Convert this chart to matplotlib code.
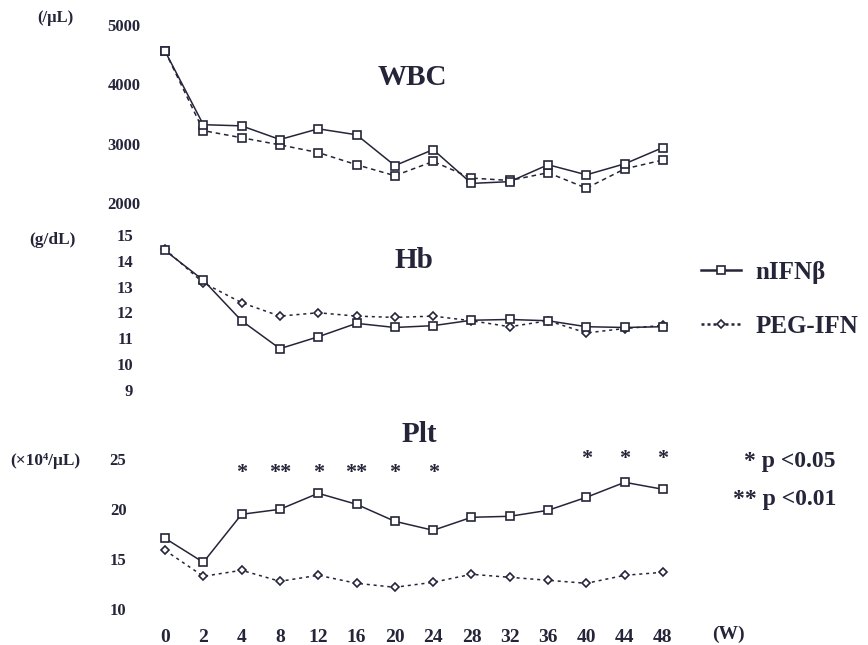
#! /usr/bin/env python3

import numpy as np
import matplotlib
matplotlib.use('Agg')
import matplotlib.pyplot as plt
from matplotlib.lines import Line2D

plt.rcParams['font.family'] = ['Liberation Serif', 'DejaVu Serif']
plt.rcParams['font.weight'] = 'bold'

weeks = ['0', '2', '4', '8', '12', '16', '20', '24', '28', '32', '36', '40', '44', '48']

wbc_nifn = [4560, 3320, 3300, 3070, 3250, 3150, 2630, 2900, 2330, 2360, 2645, 2475, 2660, 2935]
wbc_peg = [4560, 3220, 3100, 2980, 2850, 2645, 2460, 2700, 2420, 2380, 2510, 2250, 2575, 2725]

hb_nifn = [14.4, 13.25, 11.68, 10.6, 11.06, 11.58, 11.42, 11.49, 11.7, 11.73, 11.68, 11.45, 11.42, 11.45]
hb_peg = [14.45, 13.15, 12.38, 11.86, 11.99, 11.86, 11.81, 11.86, 11.68, 11.45, 11.68, 11.21, 11.38, 11.5]

plt_nifn = [17.1, 14.7, 19.5, 20.0, 21.6, 20.5, 18.8, 17.9, 19.2, 19.3, 19.9, 21.2, 22.7, 22.0]
plt_peg = [15.9, 13.3, 13.9, 12.8, 13.4, 12.6, 12.2, 12.7, 13.5, 13.2, 12.9, 12.6, 13.4, 13.7]

sig_marks = ['', '', '*', '**', '*', '**', '*', '*', '', '', '', '*', '*', '*']
sig_height = [0, 0, 23.9, 23.9, 23.9, 23.9, 23.9, 23.9, 0, 0, 0, 25.3, 25.3, 25.3]

ink = '#25253a'
W, H = 868, 645
x = np.arange(len(weeks))
sq = dict(marker='s', ms=5.5, mfc='white', mec=ink, mew=1.2, clip_on=False)
dm = dict(marker='D', ms=4.2, mfc='white', mec=ink, mew=1.2, clip_on=False)


def px_axes(top, bottom):
    # axes placed by pixel rows of the y limits
    left = 145.85 / W
    width = (682.15 - 145.85) / W
    return fig.add_axes([left, 1 - bottom / H, width, (bottom - top) / H])


def style(ax, ticks, pad):
    for s in ax.spines.values():
        s.set_visible(False)
    ax.set_xlim(-0.5, len(weeks) - 0.5)
    ax.set_yticks(ticks)
    ax.tick_params(axis='y', length=0, pad=pad, labelsize=12, colors=ink)
    ax.tick_params(axis='x', length=0)
    ax.set_xticks([])


fig = plt.figure(figsize=(W / 100, H / 100), dpi=100)

# WBC
ax1 = px_axes(25, 203)
ax1.plot(x, wbc_peg, color=ink, lw=1.1, ls=(0, (3, 2.5)), **sq)
ax1.plot(x, wbc_nifn, color=ink, lw=1.1, **sq)
ax1.set_ylim(2000, 5000)
style(ax1, [2000, 3000, 4000, 5000], 4)
ax1.text(6.45, 4120, 'WBC', fontsize=21, ha='center', va='center', color=ink)
fig.text(37 / W, 1 - 18 / H, '(/μL)', fontsize=12, ha='left', va='center', color=ink)

# Hb
ax2 = px_axes(235, 390)
ax2.plot(x, hb_peg, color=ink, lw=1.1, ls=(0, (2, 2.5)), **dm)
ax2.plot(x, hb_nifn, color=ink, lw=1.1, **sq)
ax2.set_ylim(9, 15)
style(ax2, [9, 10, 11, 12, 13, 14, 15], 9)
ax2.text(6.5, 14.0, 'Hb', fontsize=21, ha='center', va='center', color=ink)
fig.text(29 / W, 1 - 240 / H, '(g/dL)', fontsize=12.5, ha='left', va='center', color=ink)

handles = [Line2D([], [], color=ink, lw=1.8, marker='s', ms=5.5, mfc='white', mec=ink, mew=1.2),
           Line2D([], [], color=ink, lw=1.8, ls=(0, (1.2, 1.2)), marker='D', ms=4.2,
                  mfc='white', mec=ink, mew=1.2)]
leg = fig.legend(handles, ['nIFNβ', 'PEG-IFN'], loc='upper left',
                 bbox_to_anchor=(678 / W, 1 - 238 / H), frameon=False, fontsize=18,
                 handlelength=1.6, labelspacing=1.25, handletextpad=0.6)
for t in leg.get_texts():
    t.set_color(ink)

# Plt
ax3 = px_axes(459.3, 609.3)
ax3.plot(x, plt_peg, color=ink, lw=1.1, ls=(0, (2, 2.5)), **dm)
ax3.plot(x, plt_nifn, color=ink, lw=1.1, **sq)
ax3.set_ylim(10, 25)
style(ax3, [10, 15, 20, 25], 14)
ax3.set_xticks(x)
ax3.set_xticklabels(weeks)
ax3.tick_params(axis='x', length=0, pad=14, labelsize=14, colors=ink)
for i, m in enumerate(sig_marks):
    if m:
        ax3.text(i, sig_height[i] - 0.3, m, fontsize=16, ha='center', va='center', color=ink)
ax3.text(6.65, 27.5, 'Plt', fontsize=21, ha='center', va='center', color=ink)
fig.text(712 / W, 1 - 634 / H, '(W)', fontsize=14, ha='left', va='center', color=ink)
fig.text(10 / W, 1 - 461 / H, '(×10⁴/μL)', fontsize=12.5, ha='left', va='center', color=ink)

fig.text(836 / W, 1 - 462 / H, '* p <0.05', fontsize=17, ha='right', va='center', color=ink)
fig.text(836 / W, 1 - 500 / H, '** p <0.01', fontsize=17, ha='right', va='center', color=ink)

plt.savefig('out.png', dpi=100)
